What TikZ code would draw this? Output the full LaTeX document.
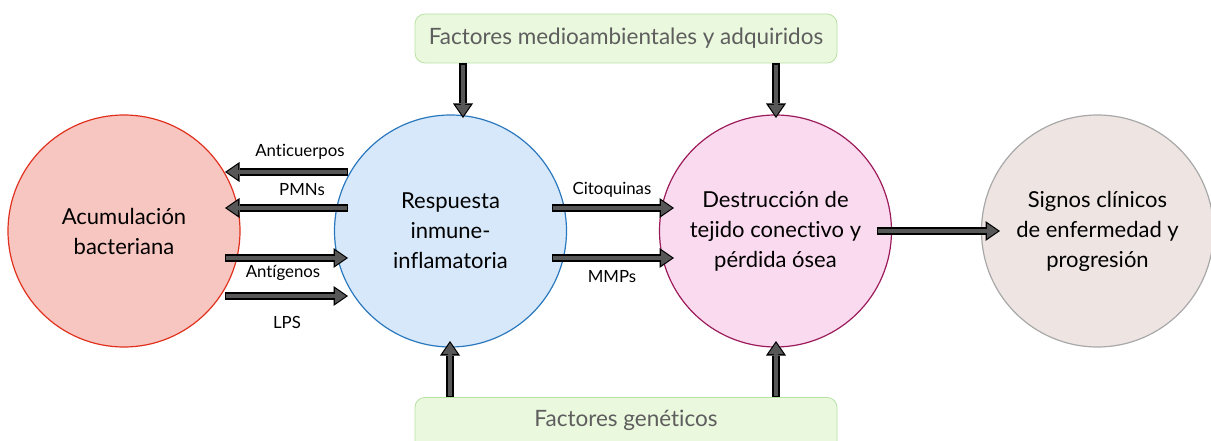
\documentclass[tikz,border=0pt]{standalone}
\usepackage{fontspec}
\setmainfont{Lato}[Ligatures=NoCommon]
\usetikzlibrary{arrows.meta}
\definecolor{redfill}{HTML}{F8C6C0}
\definecolor{redline}{HTML}{E0301E}
\definecolor{bluefill}{HTML}{D6E8FA}
\definecolor{blueline}{HTML}{2A78BE}
\definecolor{pinkfill}{HTML}{FADAEF}
\definecolor{pinkline}{HTML}{9B1B5A}
\definecolor{grayfill}{HTML}{EEE5E3}
\definecolor{grayline}{HTML}{A8A8A8}
\definecolor{boxfill}{HTML}{EAF8DE}
\definecolor{boxline}{HTML}{B8E2A4}
\definecolor{boxtext}{HTML}{5E5E5E}
\definecolor{arrowgray}{HTML}{575757}
\begin{document}
\begin{tikzpicture}[x=1pt,y=-1pt,
  circ/.style={circle, line width=1.2pt, minimum size=232pt, inner sep=0pt, align=center,
    font=\fontsize{22}{30}\selectfont},
  fbox/.style={draw=boxline, fill=boxfill, rounded corners=10pt, line width=0.8pt,
    minimum width=422pt, inner sep=0pt, text=boxtext, font=\fontsize{22.5}{26}\selectfont},
  lab/.style={font=\fontsize{16.8}{20}\selectfont, inner sep=0pt},
  blk/.style={line width=4.6pt, draw=arrowgray,
    -{Triangle[length=11pt,width=15pt,line width=0pt]},
    shorten <=1.4pt, shorten >=2pt,
    preaction={draw=black, line width=7.4pt,
      -{Triangle[length=14.5pt,width=20pt,line width=0pt]},
      shorten <=0pt, shorten >=0pt}}
]
\useasboundingbox (0,0) rectangle (1211,441);
\clip (0,0) rectangle (1211,441);

% circles
\node[circ, draw=redline, fill=redfill] (bac) at (124,231) {Acumulación\\bacteriana};
\node[circ, draw=blueline, fill=bluefill] (inm) at (450.5,231) {Respuesta\\inmune-\\inflamatoria};
\node[circ, draw=pinkline, fill=pinkfill] (des) at (775.5,231) {Destrucción de\\tejido conectivo y\\pérdida ósea};
\node[circ, draw=grayline, fill=grayfill] (sig) at (1097.5,231) {Signos clínicos\\de enfermedad y\\progresión};

% boxes
\node[fbox, minimum height=49pt] (med) at (626,38.5) {Factores medioambientales y adquiridos};
\node[fbox, minimum height=60pt, anchor=north] (gen) at (626,397) {};
\node[font=\fontsize{22.5}{26}\selectfont, text=boxtext, inner sep=0pt] (gentxt) at (626,420) {Factores genéticos};

% arrow end points
\coordinate (a1s) at (348,172); \coordinate (a1e) at (225,172);
\coordinate (a2s) at (348,208); \coordinate (a2e) at (225,208);
\coordinate (a3s) at (225,258); \coordinate (a3e) at (348,258);
\coordinate (a4s) at (225,296); \coordinate (a4e) at (348,296);
\coordinate (c1s) at (552,208); \coordinate (c1e) at (674,208);
\coordinate (c2s) at (552,258); \coordinate (c2e) at (674,258);
\coordinate (bgs) at (877,231); \coordinate (bge) at (1000,231);
\coordinate (t1s) at (463,63.5); \coordinate (t1e) at (463,118);
\coordinate (t2s) at (776,63.5); \coordinate (t2e) at (776,118);
\coordinate (b1s) at (450,397); \coordinate (b1e) at (450,341);
\coordinate (b2s) at (776,397); \coordinate (b2e) at (776,341);

% arrows
\draw[blk] (a1s) -- (a1e);
\draw[blk] (a2s) -- (a2e);
\draw[blk] (a3s) -- (a3e);
\draw[blk] (a4s) -- (a4e);
\draw[blk] (c1s) -- (c1e);
\draw[blk] (c2s) -- (c2e);
\draw[blk] (bgs) -- (bge);
\draw[blk] (t1s) -- (t1e);
\draw[blk] (t2s) -- (t2e);
\draw[blk] (b1s) -- (b1e);
\draw[blk] (b2s) -- (b2e);

% labels
\node[lab] (lanti) at (300,152) {Anticuerpos};
\node[lab] (lpmn) at (302,190) {PMNs};
\node[lab] (lant) at (283,273) {Antígenos};
\node[lab] (llps) at (287,322) {LPS};
\node[lab] (lcit) at (612,190) {Citoquinas};
\node[lab] (lmmp) at (612,277) {MMPs};
\end{tikzpicture}
\end{document}
